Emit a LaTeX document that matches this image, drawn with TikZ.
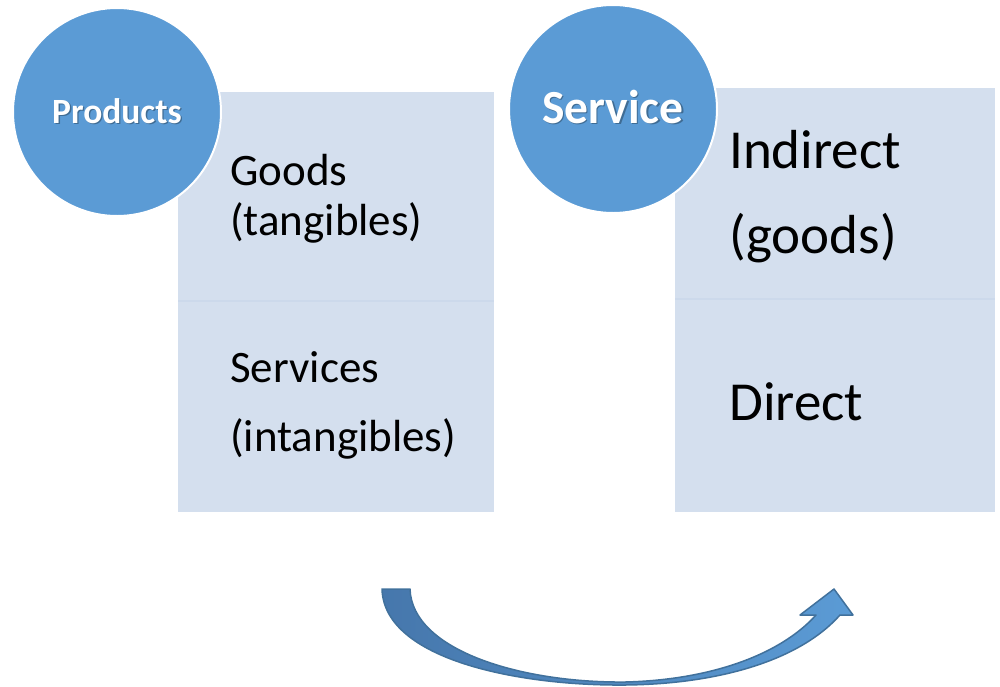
\documentclass[tikz,border=0pt]{standalone}
\usepackage{fontspec}
\setmainfont{Carlito}
\definecolor{boxfill}{HTML}{D4DFEE}
\definecolor{boxline}{HTML}{CCD9EB}
\definecolor{circfill}{HTML}{5B9BD5}
\definecolor{arrowdark}{HTML}{4677AC}
\definecolor{arrowlight}{HTML}{5B9BD5}
\definecolor{arrowedge}{HTML}{41719C}
\tikzset{
  panel/.style={fill=boxfill, draw=none},
  sep/.style={draw=boxline, line width=1.2pt},
  bubble/.style={circle, fill=circfill, draw=white, line width=2pt, minimum size=208pt, inner sep=0pt},
  bubbletext/.style={text=white, font=\bfseries},
  shadowtext/.style={text=black, opacity=0.3, font=\bfseries},
  itemtext/.style={anchor=base west, inner sep=0pt, text=black},
}
\begin{document}
\begin{tikzpicture}[x=1pt,y=-1pt]
\useasboundingbox (0,0) rectangle (1000,686);
% left panel
\fill[panel] (178,92) rectangle (494,512);
\draw[sep] (178,301) -- (494,301);
% right panel
\fill[panel] (675,88) rectangle (995,512);
\draw[sep] (675,299) -- (995,299);
% circles
\node[bubble] (prod) at (117,112) {};
\node[bubble] (serv) at (613,109) {};
\node[shadowtext, font=\fontsize{35.5}{40}\selectfont\bfseries, anchor=base] at (118.3,124.3) {Products};
\node[bubbletext, font=\fontsize{35.5}{40}\selectfont\bfseries, anchor=base] (prodlabel) at (117,123) {Products};
\node[shadowtext, font=\fontsize{47.5}{52}\selectfont\bfseries, anchor=base] at (614.3,124.3) {Service};
\node[bubbletext, font=\fontsize{47.5}{52}\selectfont\bfseries, anchor=base] (servlabel) at (613,123) {Service};
% left texts
\node[itemtext, font=\fontsize{45}{50}\selectfont] (goods) at (230,185) {Goods};
\node[itemtext, font=\fontsize{45}{50}\selectfont] (tang) at (230,235) {(tangibles)};
\node[itemtext, font=\fontsize{45}{50}\selectfont] (services) at (230,382) {Services};
\node[itemtext, font=\fontsize{45}{50}\selectfont] (intang) at (230,451) {(intangibles)};
% right texts
\node[itemtext, font=\fontsize{55}{60}\selectfont] (indirect) at (729,168) {Indirect};
\node[itemtext, font=\fontsize{55}{60}\selectfont] (goods2) at (729,253) {(goods)};
\node[itemtext, font=\fontsize{55}{60}\selectfont] (direct) at (729,420) {Direct};
% curved arrow
\coordinate (astart) at (396,589);
\coordinate (atip) at (834,589);
\path[draw=arrowedge, line width=1.5pt, left color=arrowdark, right color=arrowlight, line join=round]
  (382,589) .. controls (384,660) and (520,686) .. (625,685)
  .. controls (720,684) and (800,660) .. (840,615)
  -- (853,615) -- (atip) -- (800,615) -- (816,615)
  .. controls (780,655) and (710,680) .. (625,682)
  .. controls (520,683) and (412,650) .. (410,589) -- cycle;
\end{tikzpicture}
\end{document}
